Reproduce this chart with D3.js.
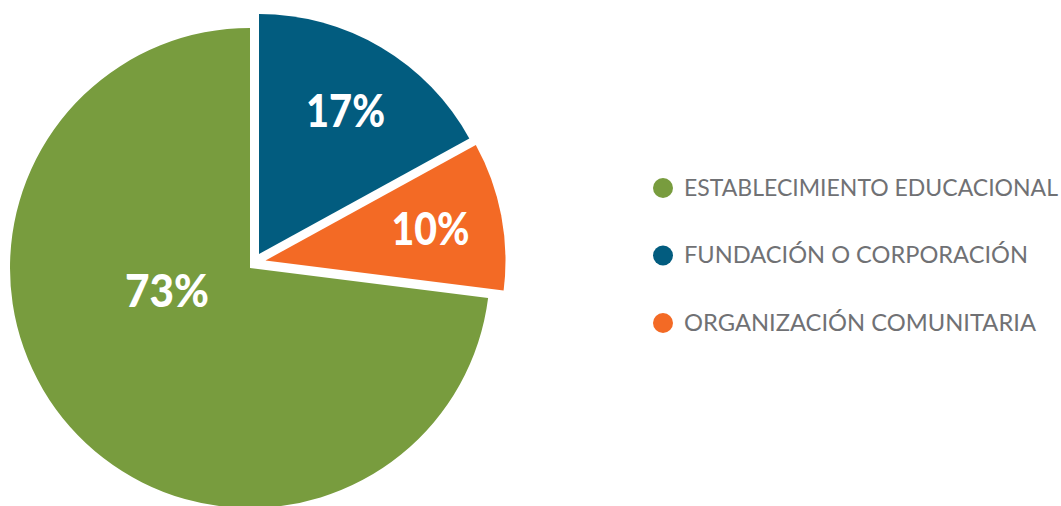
<!DOCTYPE html>
<html><head><meta charset="utf-8">
<script src="https://cdn.jsdelivr.net/npm/d3@7"></script>
<style>html,body{margin:0;padding:0;background:#fff;}svg{display:block;}</style>
</head><body>
<svg id="chart" width="1061" height="506"></svg>
<script>
// ---- data ----
const categories = ["FUNDACIÓN O CORPORACIÓN", "ORGANIZACIÓN COMUNITARIA", "ESTABLECIMIENTO EDUCACIONAL"];
const values = [17, 10, 73];
const colors = ["#025c7f", "#f36a25", "#789c3e"];
const legendOrder = ["ESTABLECIMIENTO EDUCACIONAL", "FUNDACIÓN O CORPORACIÓN", "ORGANIZACIÓN COMUNITARIA"];

// ---- layout ----
const center = [250, 268];
const radius = 240;
const explode = {            // slice shift [dx, dy]
  "FUNDACIÓN O CORPORACIÓN": [9, -14],
  "ORGANIZACIÓN COMUNITARIA": [15.5, -7.5],
  "ESTABLECIMIENTO EDUCACIONAL": [0, 0]
};
const labelPolar = {         // [distance, angle in degrees from 12 o'clock] relative to slice centre
  "FUNDACIÓN O CORPORACIÓN": [168, 31],
  "ORGANIZACIÓN COMUNITARIA": [168, 79],
  "ESTABLECIMIENTO EDUCACIONAL": [86, 255]
};
const labelWidths = {"FUNDACIÓN O CORPORACIÓN": 79, "ORGANIZACIÓN COMUNITARIA": 78, "ESTABLECIMIENTO EDUCACIONAL": 84};
const legendWidths = {"ESTABLECIMIENTO EDUCACIONAL": 374, "FUNDACIÓN O CORPORACIÓN": 344, "ORGANIZACIÓN COMUNITARIA": 352};

const svg = d3.select("#chart");
const color = d3.scaleOrdinal().domain(categories).range(colors);
const data = categories.map((c, i) => ({cat: c, value: values[i]}));
const pie = d3.pie().value(d => d.value).sort(null);
const arc = d3.arc().innerRadius(0).outerRadius(radius);

const slices = svg.selectAll("g.slice").data(pie(data)).join("g")
  .attr("class", "slice")
  .attr("transform", d => {
    const o = explode[d.data.cat];
    return `translate(${center[0] + o[0]},${center[1] + o[1]})`;
  });

slices.append("path").attr("d", arc).attr("fill", d => color(d.data.cat));

slices.append("text")
  .attr("x", d => { const p = labelPolar[d.data.cat]; return p[0] * Math.sin(p[1] * Math.PI / 180); })
  .attr("y", d => { const p = labelPolar[d.data.cat]; return -p[0] * Math.cos(p[1] * Math.PI / 180); })
  .attr("dy", "0.36em")
  .attr("text-anchor", "middle")
  .attr("fill", "#fff")
  .attr("font-family", "Lato, 'Open Sans', sans-serif")
  .attr("font-weight", 900)
  .attr("font-size", 46)
  .attr("textLength", d => labelWidths[d.data.cat])
  .attr("lengthAdjust", "spacingAndGlyphs")
  .text(d => d.data.value + "%");

// ---- legend ----
const legendY = d3.scalePoint().domain(legendOrder).range([188, 323]);
const lg = svg.selectAll("g.legend").data(legendOrder).join("g")
  .attr("class", "legend")
  .attr("transform", d => `translate(663,${legendY(d)})`);
lg.append("circle").attr("r", 10).attr("fill", d => color(d));
lg.append("text")
  .attr("x", 21)
  .attr("y", 7.5)
  .attr("fill", "#707174")
  .attr("font-family", "Lato, 'Open Sans', sans-serif")
  .attr("font-size", 23)
  .attr("textLength", d => legendWidths[d])
  .attr("lengthAdjust", "spacingAndGlyphs")
  .text(d => d);
</script>
</body></html>
